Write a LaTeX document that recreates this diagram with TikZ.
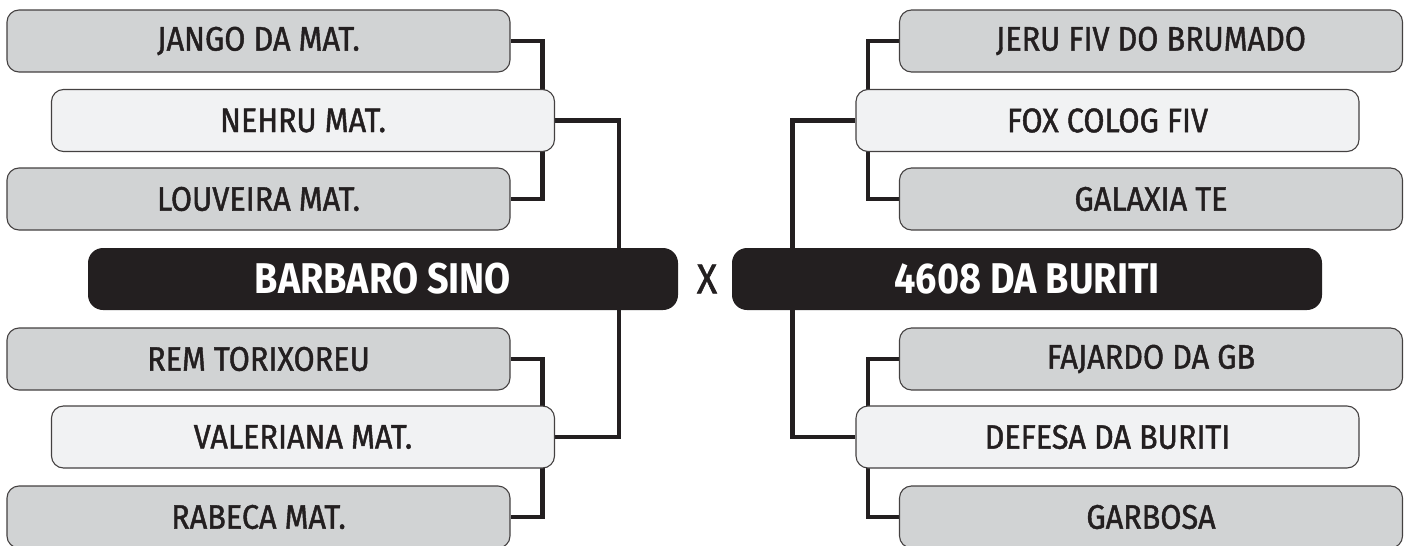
\documentclass[tikz,border=0pt]{standalone}
\usepackage{fontspec}
\setmainfont{Fira Sans}[FakeStretch=0.88]
\newfontfamily\labelfont{Fira Sans}[FakeStretch=0.9, FakeBold=1.3]
\usetikzlibrary{positioning}
\usepackage{xcolor}
\definecolor{boxgray}{HTML}{D1D3D4}
\definecolor{boxlight}{HTML}{F1F2F3}
\definecolor{inkblack}{HTML}{231F20}
\pgfdeclarelayer{background}
\pgfsetlayers{background,main}

\begin{document}
\begin{tikzpicture}[
  x=1pt, y=-1pt,
  every node/.style={font=\labelfont\fontsize{34}{34}\selectfont, text=inkblack},
  sidebox/.style={draw=inkblack!85, line width=1.1pt, rounded corners=12pt, fill=boxgray,
    minimum width=503pt, minimum height=62pt, inner sep=0pt},
  pickbox/.style={sidebox, fill=boxlight},
  finalbox/.style={fill=inkblack, rounded corners=15pt, minimum width=590pt, minimum height=62pt,
    inner sep=0pt, text=white, font=\rmfamily\fontsize{43}{43}\selectfont\bfseries},
  link/.style={draw=inkblack, line width=4.5pt, line join=miter},
]
\useasboundingbox (0,0) rectangle (1411,546);
\clip (0,0) rectangle (1411,546);

% Left bracket: top group
\node[sidebox] (jango)    at (258.5, 41)  {JANGO DA MAT.};
\node[pickbox] (nehru)    at (303, 120.5) {NEHRU MAT.};
\node[sidebox] (louveira) at (258.5, 199) {LOUVEIRA MAT.};

% Left bracket: bottom group
\node[sidebox] (rem)       at (258.5, 359) {REM TORIXOREU};
\node[pickbox] (valeriana) at (303, 437)   {VALERIANA MAT.};
\node[sidebox] (rabeca)    at (258.5, 517) {RABECA MAT.};

% Right bracket: top group
\node[sidebox] (jeru)    at (1151, 41)    {JERU FIV DO BRUMADO};
\node[pickbox] (fox)     at (1107.5, 120.5) {FOX COLOG FIV};
\node[sidebox] (galaxia) at (1151, 199)   {GALAXIA TE};

% Right bracket: bottom group
\node[sidebox] (fajardo) at (1151, 359)   {FAJARDO DA GB};
\node[pickbox] (defesa)  at (1107.5, 437) {DEFESA DA BURITI};
\node[sidebox] (garbosa) at (1151, 517)   {GARBOSA};

% Final
\node[finalbox] (barbaro) at (383, 279)  {BARBARO SINO};
\node[font=\labelfont\fontsize{42}{42}\selectfont] (versus) at (707, 279) {X};
\node[finalbox] (buriti)  at (1027, 279) {4608 DA BURITI};

% --- connectors sit behind the boxes ---
\begin{pgfonlayer}{background}
\draw[link] (jango.east) -- ++(32,0) |- (louveira.east);
\draw[link] (rem.east) -- ++(32,0) |- (rabeca.east);
\draw[link] (nehru.east) -- ++(64,0) |- (valeriana.east);
\draw[link] (jeru.west) -- ++(-31,0) |- (galaxia.west);
\draw[link] (fajardo.west) -- ++(-31,0) |- (garbosa.west);
\draw[link] (fox.west) -- ++(-63,0) |- (defesa.west);
\end{pgfonlayer}
\end{tikzpicture}
\end{document}
